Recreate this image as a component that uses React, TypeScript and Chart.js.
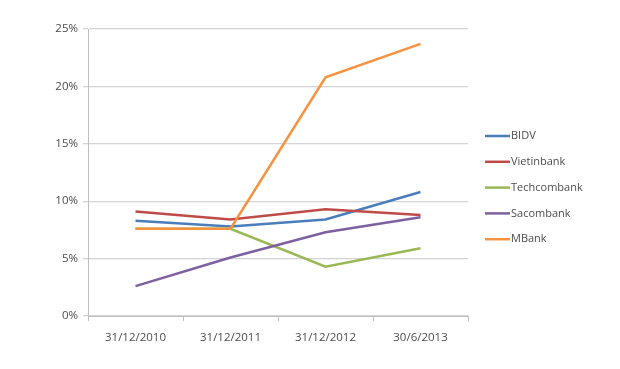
import React, { useEffect, useRef } from "react";
import { Chart, registerables } from "chart.js";

Chart.register(...registerables);

const categories = ["31/12/2010", "31/12/2011", "31/12/2012", "30/6/2013"];
const seriesNames = ["BIDV", "Vietinbank", "Techcombank", "Sacombank", "MBank"];
const bidv = [8.3, 7.8, 8.4, 10.8];
const vietinbank = [9.1, 8.4, 9.3, 8.8];
const techcombank = [7.6, 7.6, 4.3, 5.9];
const sacombank = [2.6, 5.1, 7.3, 8.6];
const mbank = [7.6, 7.6, 20.8, 23.7];
const colors = ["#4A7EBB", "#BE4B48", "#98B954", "#7D60A0", "#F69240"];
const yTicks = [0, 5, 10, 15, 20, 25];

const FONT = "'Open Sans', sans-serif";
const TEXT = "#4D4D4D";

const legendPlugin = {
  id: "customLegend",
  afterDraw(chart: any) {
    const ctx = chart.ctx;
    ctx.save();
    chart.data.datasets.forEach((ds: any, i: number) => {
      const y = 136 + i * 25.8;
      ctx.strokeStyle = ds.borderColor;
      ctx.lineWidth = 2.5;
      ctx.beginPath();
      ctx.moveTo(485, y);
      ctx.lineTo(510, y);
      ctx.stroke();
      ctx.fillStyle = TEXT;
      ctx.font = `11px ${FONT}`;
      ctx.textAlign = "left";
      ctx.textBaseline = "middle";
      ctx.fillText(ds.label, 511, y);
    });
    ctx.restore();
  },
};

export default function App() {
  const ref = useRef<HTMLCanvasElement>(null);
  useEffect(() => {
    const all = [bidv, vietinbank, techcombank, sacombank, mbank];
    const chart = new Chart(ref.current!, {
      type: "line",
      data: {
        labels: categories,
        datasets: all.map((d, i) => ({
          label: seriesNames[i],
          data: d,
          borderColor: colors[i],
          backgroundColor: colors[i],
          borderWidth: 2.5,
          pointRadius: 0,
          tension: 0,
          order: all.length - 1 - i,
        })),
      },
      options: {
        responsive: false,
        animation: false,
        layout: { padding: { left: 0, top: 29, right: 152, bottom: 0 } },
        plugins: { legend: { display: false }, tooltip: { enabled: false } },
        scales: {
          x: {
            offset: true,
            grid: {
              offset: true,
              drawOnChartArea: false,
              drawTicks: true,
              tickLength: 5,
              color: "#BFBFBF",
            },
            border: { color: "#BFBFBF" },
            ticks: { color: TEXT, font: { family: FONT, size: 11.5 }, padding: 10, maxRotation: 0 },
            afterFit: (s: any) => {
              s.height = 53;
            },
          },
          y: {
            min: 0,
            max: 25,
            afterBuildTicks: (s: any) => {
              s.ticks = yTicks.map((v) => ({ value: v }));
            },
            grid: { color: "#D4D4D4", tickLength: 5, lineWidth: 1.3 },
            border: { color: "#BFBFBF" },
            ticks: {
              color: TEXT,
              font: { family: FONT, size: 11.5 },
              padding: 5,
              callback: (v: any) => `${v}%`,
            },
            afterFit: (s: any) => {
              s.width = 88;
            },
          },
        },
      },
      plugins: [legendPlugin],
    });
    return () => chart.destroy();
  }, []);
  return (
    <div style={{ position: "absolute", left: 0, top: 0, width: 620, height: 369, background: "#fff" }}>
      <canvas ref={ref} width={620} height={369} />
    </div>
  );
}
